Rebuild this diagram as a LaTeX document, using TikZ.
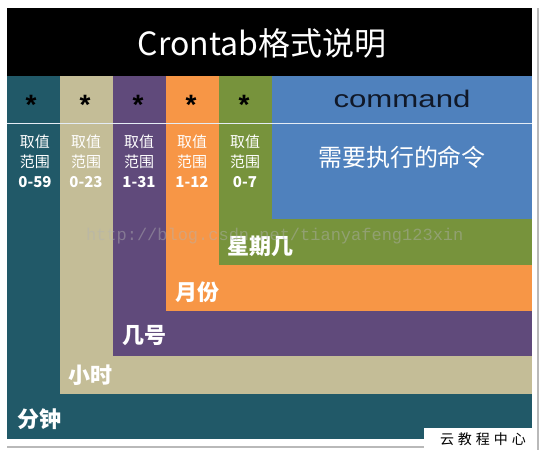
\documentclass[tikz,border=0pt]{standalone}
\usepackage{fontspec}
\setmainfont{Liberation Sans}
\newfontfamily\cjk{Noto Sans CJK SC}
\newfontfamily\wmark{Liberation Mono}
\usetikzlibrary{positioning}
\definecolor{cteal}{HTML}{215968}
\definecolor{ctan}{HTML}{C4BD97}
\definecolor{cplum}{HTML}{604A7B}
\definecolor{corange}{HTML}{F79646}
\definecolor{colive}{HTML}{77933C}
\definecolor{cblue}{HTML}{4F81BD}
\definecolor{cink}{HTML}{101828}
\newcommand{\range}[1]{取值\\范围\\{\bfseries #1}}

\begin{document}
\begin{tikzpicture}[
  x=1pt, y=-1pt,
  every node/.style={inner sep=0pt, outer sep=0pt},
  star/.style={anchor=base, text=black, font=\fontsize{28}{28}\selectfont\bfseries},
  rng/.style={anchor=north, align=center, text=white,
              font=\cjk\fontsize{15}{20}\selectfont},
  unit/.style={anchor=west, text=white, font=\cjk\fontsize{22}{22}\selectfont\bfseries},
]
\useasboundingbox (0,0) rectangle (542,450);

% ---------------------------------------------------------------- geometry
\def\xr{532}     % right edge of the panels
\def\ytop{76}    % top edge of the field row
\def\yrule{123}  % thin rule under the stars

% ---------------------------------------------------------------- shadow
\draw[gray!55, line width=1.5pt] (538,8) -- (538,450);
\draw[gray!55, line width=1.5pt] (7,447) -- (538,447);

% ---------------------------------------------------------------- nested bands
\foreach \x/\yb/\c in {7/439/cteal, 60/394/ctan, 113/356/cplum,
                       166/311/corange, 219/265/colive, 272/219/cblue}
  \fill[\c] (\x,\ytop) rectangle (\xr,\yb);

% ---------------------------------------------------------------- title
\fill[black] (7,8) rectangle (\xr,\ytop);
\node[text=white, font=\cjk\fontsize{32}{32}\selectfont] (title) at (262,43)
  {Crontab格式说明};

\draw[white!85!cblue, line width=1pt] (7,\yrule) -- (\xr,\yrule);

% ---------------------------------------------------------------- fields
\foreach \x [count=\i] in {31,85,138,191,244}
  \node[star] (s\i) at (\x,114) {*};
\node[anchor=base, text=cink, xscale=1.3,
      font=\fontsize{24}{24}\selectfont] (cmd) at (402,107) {command};

\node[rng] (r1) at (35,135)  {\range{0-59}};
\node[rng] (r2) at (86,135)  {\range{0-23}};
\node[rng] (r3) at (139,135) {\range{1-31}};
\node[rng] (r4) at (192,135) {\range{1-12}};
\node[rng] (r5) at (245,135) {\range{0-7}};
\node[text=white, font=\cjk\fontsize{24}{24}\selectfont] (cmdtxt) at (402,157)
  {需要执行的命令};

% ---------------------------------------------------------------- band labels
\node[unit] (week)  at (227,246) {星期几};
\node[unit] (month) at (175,292) {月份};
\node[unit] (day)   at (122,336) {几号};
\node[unit] (hour)  at (68,375)  {小时};
\node[unit] (min)   at (17,419)  {分钟};

% ---------------------------------------------------------------- watermark
\node[anchor=west, text=gray!60, opacity=0.45,
      font=\wmark\fontsize{17}{17}\selectfont] (wm) at (86,236)
  {http://blog.csdn.net/tianyafeng123xin};

% ---------------------------------------------------------------- corner tag
\fill[white] (424,428) rectangle (537,450);
\node[text=black, font=\cjk\fontsize{14}{14}\selectfont] (tag) at (483,439)
  {云\hspace{4pt}教\hspace{4pt}程\hspace{4pt}中\hspace{4pt}心};

\end{tikzpicture}
\end{document}
